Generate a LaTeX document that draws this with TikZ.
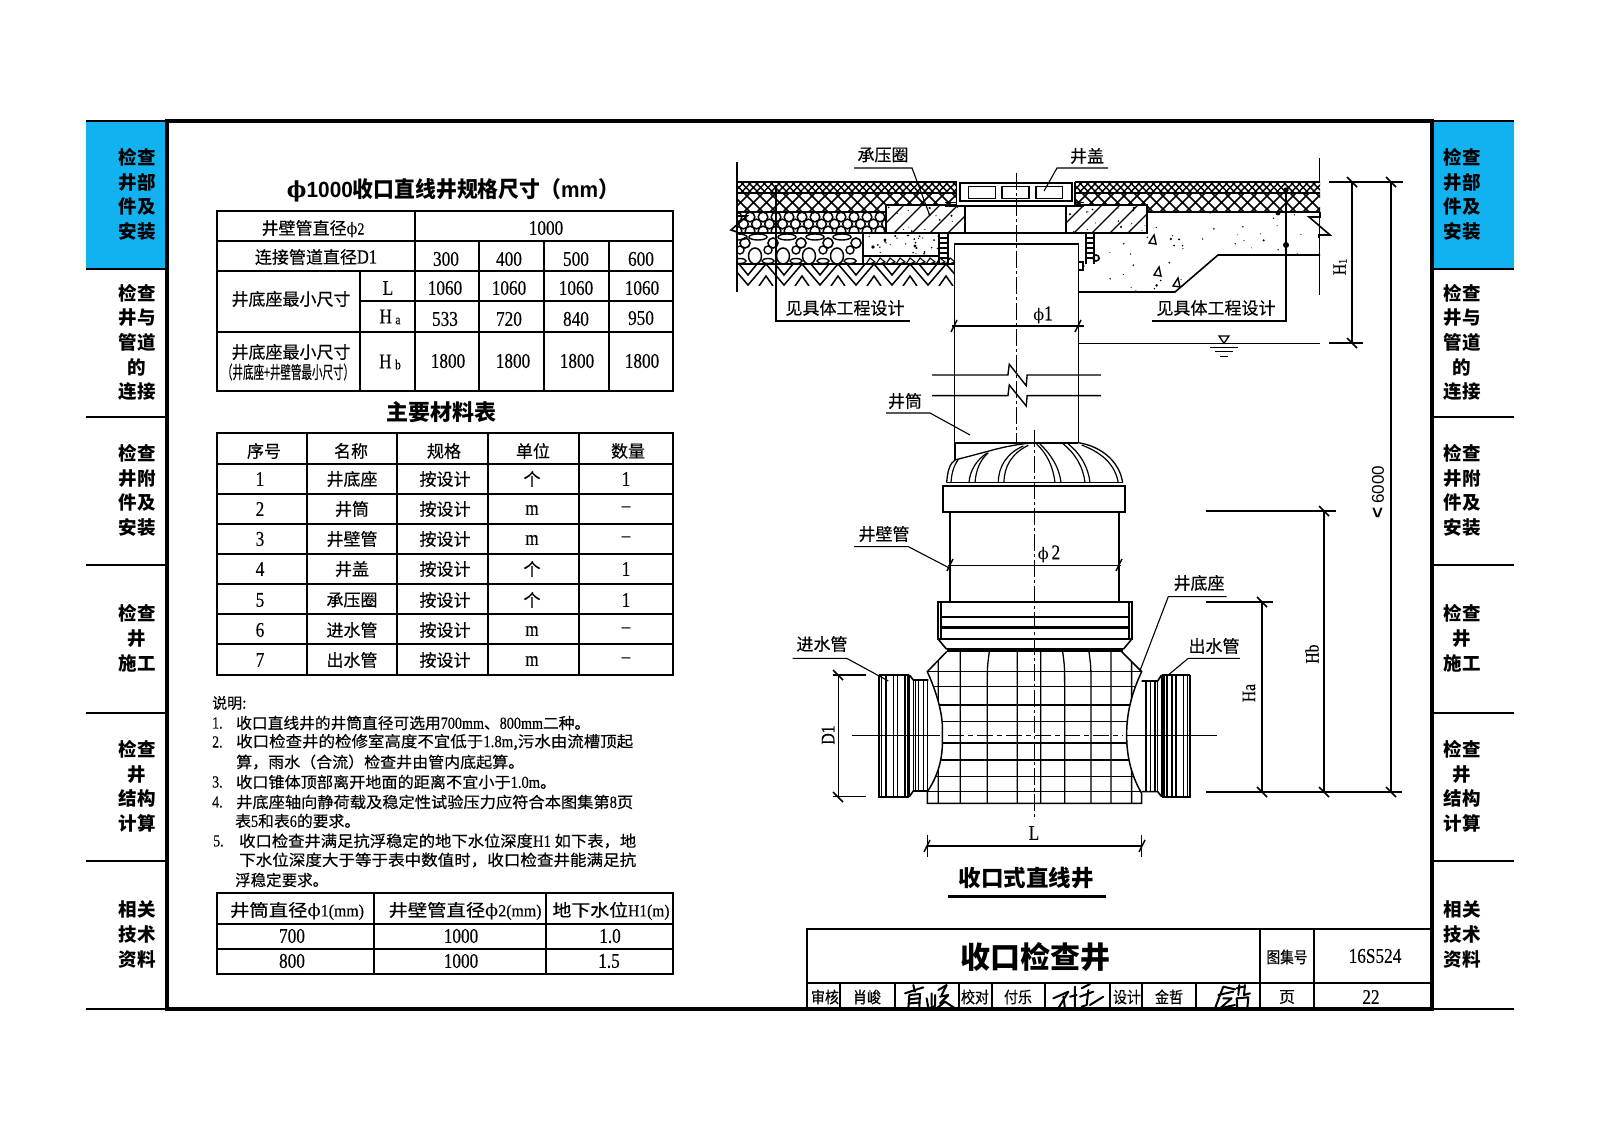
\documentclass[tikz,border=0pt]{standalone}
\usepackage{fontspec}
\newfontfamily\cjk{Noto Sans CJK SC}
\newfontfamily\cjl[FakeBold=0.35]{Noto Sans CJK SC}
\newfontfamily\numf[FakeStretch=0.82,FakeBold=0.3]{Liberation Serif}
\newfontfamily\phif{DejaVu Serif}
\newfontfamily\headf{Liberation Sans}
\newcounter{tn}
\newcommand{\T}[4][]{\stepcounter{tn}\edef\nn{t\arabic{tn}}\node[txt,#1] (\nn) at (#2,#3) {#4};}
\newcommand{\M}[4][]{\stepcounter{tn}\edef\nn{t\arabic{tn}}\node[numtxt,#1] (\nn) at (#2,#3) {#4};}
\newcommand{\NL}[5]{\stepcounter{tn}\edef\nn{t\arabic{tn}}\node[txt,anchor=west,font=\cjl\fontsize{15.5}{16}\selectfont] (\nn) at (#1,#2) {\resizebox{#3pt}{\height}{#4#5}};}
\newcommand{\nm}[1]{{\numf\fontsize{17}{17}\selectfont #1}}
\newcommand{\xh}[6]{\begin{scope}\clip (#1,#2) rectangle (#3,#4);
 \pgfmathsetmacro\hhx{#4-#2}\pgfmathsetmacro\stx{#1-\hhx}\pgfmathsetmacro\snx{\stx+#5}
 \foreach \s in {\stx,\snx,...,#3}{\draw[line width=#6pt] (\s,#2)--++(\hhx,\hhx) (\s+\hhx,#2)--++(-\hhx,\hhx);}
 \end{scope}}
\newcommand{\diagh}[5]{\begin{scope}\clip (#1,#2) rectangle (#3,#4);
 \pgfmathsetmacro\hhx{#4-#2}\pgfmathsetmacro\stx{#1-\hhx}\pgfmathsetmacro\snx{\stx+#5}
 \foreach \s in {\stx,\snx,...,#3}{\draw[line width=1.3pt] (\s,#4)--++(\hhx,-\hhx);}
 \end{scope}}
\newcommand{\spk}[5]{\foreach \i in {1,...,#5}{\pgfmathsetmacro\px{#1+rnd*(#3-#1)}\pgfmathsetmacro\py{#2+rnd*(#4-#2)}\pgfmathsetmacro\pr{0.5+1.0*rnd*rnd}\fill (\px,\py) circle (\pr pt);}}
\newcommand{\tk}[2]{\draw[line width=1.5pt] (#1-5,#2-5)--(#1+5,#2+5);}
\newcommand{\tb}[2]{\draw[line width=1.5pt] (#1-3,#2+6)--(#1+3,#2-6);}
\tikzset{
 txt/.style={inner sep=0pt,anchor=center,font=\cjl\fontsize{17}{18}\selectfont},
 numtxt/.style={inner sep=0pt,anchor=center,font=\numf\fontsize{21}{22}\selectfont},
 tabtxt/.style={inner sep=0pt,anchor=center,align=center,font=\cjk\bfseries\fontsize{18.5}{24.7}\selectfont},
 Z1/.style={shift={(720pt,-130pt)},x=0.4464pt,y=-0.3333pt},
 Z2/.style={shift={(780pt,-420pt)},x=0.3333pt,y=-0.3333pt},
 Z9/.style={shift={(890pt,-980pt)},x=0.3333pt,y=-0.3333pt},
 ln/.style={line width=1.1pt},
 md/.style={line width=1.6pt},
 sig/.style={line width=2pt,line cap=round,line join=round},
 ax/.style={line width=1pt,dash pattern=on 17pt off 3pt on 3pt off 3pt},
}
\definecolor{tabblue}{HTML}{12B2F0}
\begin{document}
\begin{tikzpicture}[x=1pt,y=-1pt,line join=miter]
\useasboundingbox (0,0) rectangle (1600,1131);
\fill[white] (0,0) rectangle (1600,1131);
% side tabs
\fill[tabblue] (86,121) rectangle (167,269);
\fill[tabblue] (1433,121) rectangle (1514,269);
\foreach \y in {269,417,565,713,861,1009}{\draw[md] (86,\y)--(167,\y) (1433,\y)--(1514,\y);}
\draw[md] (86,121)--(167,121) (1433,121)--(1514,121);
\foreach \xx in {137,1462}{
\T[tabtxt]{\xx}{194.5}{检查\\井部\\件及\\安装}
\T[tabtxt]{\xx}{342.5}{检查\\井与\\管道\\的\\连接}
\T[tabtxt]{\xx}{490.5}{检查\\井附\\件及\\安装}
\T[tabtxt]{\xx}{638.5}{检查\\井\\施工}
\T[tabtxt]{\xx}{786.5}{检查\\井\\结构\\计算}
\T[tabtxt]{\xx}{934.5}{相关\\技术\\资料}
}
% frame
\draw[line width=3.4pt] (167,121) rectangle (1432,1009);
% table 1
\T[font=\cjk\bfseries\fontsize{22}{22}\selectfont]{453}{190}{\resizebox{332pt}{\height}{{\phif ϕ}{\headf 1000}收口直线井规格尺寸（{\headf mm}）}}
\draw[line width=2.2pt] (217,211) rectangle (673,391);
\draw[md] (217,241)--(673,241) (217,271)--(673,271) (360,301)--(673,301) (217,332)--(673,332)
 (415,211)--(415,391) (360,271)--(360,391) (479,241)--(479,391) (544,241)--(544,391) (609,241)--(609,391);
\T{313}{229}{井壁管直径{\phif\fontsize{16}{16}\selectfont ϕ}{\numf 2}}
\M{546}{228}{1000}
\T{316}{257}{连接管道直径{\numf\fontsize{20}{20}\selectfont D1}}
\M{446}{259}{300}\M{509}{259}{400}\M{576}{259}{500}\M{641}{259}{600}
\T{291}{299}{井底座最小尺寸}
\M{388}{288}{L}\M{390}{317}{H\,\raisebox{-1pt}{\fontsize{14}{14}\selectfont a}}
\M{445}{288}{1060}\M{509}{288}{1060}\M{576}{288}{1060}\M{642}{288}{1060}
\M{445}{319}{533}\M{509}{319}{720}\M{576}{319}{840}\M{641}{318}{950}
\T{291}{352}{井底座最小尺寸}
\T{288}{372}{\resizebox{132pt}{15pt}{（井底座+井壁管最小尺寸）}}
\M{390}{362}{H\,\raisebox{-1pt}{\fontsize{14}{14}\selectfont b}}
\M{448}{361}{1800}\M{513}{361}{1800}\M{577}{361}{1800}\M{642}{361}{1800}
% table 2
\T[font=\cjk\bfseries\fontsize{22}{22}\selectfont]{441}{412}{主要材料表}
\draw[line width=2.2pt] (217,433) rectangle (673,675);
\draw[md] (217,464)--(673,464) (217,494)--(673,494) (217,524)--(673,524) (217,554)--(673,554)
 (217,584)--(673,584) (217,614)--(673,614) (217,644)--(673,644)
 (307,433)--(307,675) (397,433)--(397,675) (488,433)--(488,675) (579,433)--(579,675);
\T{264}{451}{序号}\T{351}{451}{名称}\T{444}{451}{规格}\T{533}{451}{单位}\T{628}{451}{数量}
\M{260}{479}{1}\T{352}{479}{井底座}\T{445}{479}{按设计}\T{532}{479}{个}\M{626}{479}{1}
\M{260}{509}{2}\T{352}{509}{井筒}\T{445}{509}{按设计}\M{532}{510}{m}\M{626}{509}{–}
\M{260}{539}{3}\T{352}{539}{井壁管}\T{445}{539}{按设计}\M{532}{540}{m}\M{626}{539}{–}
\M{260}{569}{4}\T{352}{569}{井盖}\T{445}{569}{按设计}\T{532}{569}{个}\M{626}{569}{1}
\M{260}{600}{5}\T{352}{600}{承压圈}\T{445}{600}{按设计}\T{532}{600}{个}\M{626}{600}{1}
\M{260}{630}{6}\T{352}{630}{进水管}\T{445}{630}{按设计}\M{532}{631}{m}\M{626}{630}{–}
\M{260}{660}{7}\T{352}{660}{出水管}\T{445}{660}{按设计}\M{532}{661}{m}\M{626}{660}{–}
% notes
\T[anchor=west,font=\cjl\fontsize{15}{16}\selectfont]{212}{703}{说明:}
\foreach \a/\b/\c in {1/212/723,2/212/742,3/212/782,4/212/802,5/213/841}{\M[anchor=west,font=\numf\fontsize{17}{17}\selectfont]{\b}{\c}{\a.}}
\NL{236}{723}{354}{收口直线井的井筒直径可选用}{\nm{700mm}、\nm{800mm}二种。}
\NL{236}{742}{397}{收口检查井的检修室高度不宜低于}{\nm{1.8m},污水由流槽顶起}
\NL{236}{762}{288}{算，雨水（合流）检查井由管内底起算。}{}
\NL{236}{782}{320}{收口锥体顶部离开地面的距离不宜小于}{\nm{1.0m}。}
\NL{236}{802}{397}{井底座轴向静荷载及稳定性试验压力应符合本图集第}{\nm{8}页}
\NL{235}{821}{125}{表\nm{5}和表\nm{6}的要求。}{}
\NL{239}{841}{397}{收口检查井满足抗浮稳定的地下水位深度}{\nm{H1} 如下表，地}
\NL{239}{860}{397}{下水位深度大于等于表中数值时，收口检查井能满足抗}{}
\NL{235}{880}{93}{浮稳定要求。}{}
% table 3
\draw[line width=2.2pt] (217,893) rectangle (673,974);
\draw[md] (217,924)--(673,924) (217,949)--(673,949) (374,893)--(374,974) (546,893)--(546,974);
\T{297}{911}{\resizebox{134pt}{\height}{井筒直径{\phif ϕ}{\numf 1(mm)}}}
\T{465}{911}{\resizebox{153pt}{\height}{井壁管直径{\phif ϕ}{\numf 2(mm)}}}
\T{611}{911}{\resizebox{117pt}{\height}{地下水位{\numf H1(m)}}}
\M{292}{936}{700}\M{461}{936}{1000}\M{610}{936}{1.0}
\M{292}{961}{800}\M{461}{961}{1000}\M{609}{961}{1.5}
% title block
\draw[line width=2.4pt] (807,1009)--(807,929)--(1432,929);
\draw[md] (807,983)--(1432,983) (1260,929)--(1260,1009) (1314,929)--(1314,1009);
\foreach \x in {840,895,959,992,1045,1110,1142,1196}{\draw[md] (\x,983)--(\x,1009);}
\T[font=\cjk\bfseries\fontsize{30}{30}\selectfont]{1035}{957}{收口检查井}
\T[font=\cjl\fontsize{16}{16}\selectfont]{1287}{957}{\resizebox{41pt}{\height}{图集号}}
\M{1375}{956}{16S524}
\T[font=\cjl\fontsize{16}{16}\selectfont]{825}{997}{\resizebox{28pt}{\height}{审核}}
\T[font=\cjl\fontsize{16}{16}\selectfont]{867}{997}{\resizebox{28pt}{\height}{肖峻}}
\T[font=\cjl\fontsize{16}{16}\selectfont]{975}{997}{\resizebox{28pt}{\height}{校对}}
\T[font=\cjl\fontsize{16}{16}\selectfont]{1018}{997}{\resizebox{28pt}{\height}{付乐}}
\T[font=\cjl\fontsize{16}{16}\selectfont]{1127}{997}{\resizebox{28pt}{\height}{设计}}
\T[font=\cjl\fontsize{16}{16}\selectfont]{1169}{997}{\resizebox{28pt}{\height}{金哲}}
\T[font=\cjl\fontsize{16}{16}\selectfont]{1287}{997}{页}
\M{1371}{997}{22}
\begin{scope}[Z9,sig]
\draw (45,40)--(100,22) (70,15)--(75,35) (58,45)--(55,85) (58,45)--(90,42)--(88,82) (60,58)--(85,55) (60,70)--(85,68);
\draw (110,55)--(115,85)--(135,78)--(135,45) (125,40)--(125,75) (145,30)--(170,15)--(155,45) (150,50)--(175,45)--(150,70) (140,85)--(165,65)--(195,85);
\draw (490,55)--(535,35)--(505,85) (520,50)--(525,85) (540,50)--(560,45) (555,20)--(555,85) (575,25)--(600,12) (570,50)--(610,35) (595,30)--(590,75)--(575,80) (600,75)--(640,50);
\draw (1000,20)--(975,85) (1000,20)--(1035,28) (985,45)--(1030,35) (1000,55)--(1025,55)--(990,85)--(1035,75) (1040,25)--(1060,20) (1048,15)--(1045,45) (1065,15)--(1062,45)--(1080,40) (1040,55)--(1075,52)--(1072,85)--(1042,85)--cycle;
\end{scope}
% ===== road section hatches =====
\xh{737}{182}{957}{193}{7.3}{1.4}
\xh{1075}{182}{1320}{193}{7.3}{1.4}
\xh{737}{193}{957}{212}{13}{1.6}
\xh{1075}{193}{1320}{212}{13}{1.6}
\draw[md] (737,182)--(957,182) (1075,182)--(1320,182) (737,193)--(957,193) (1075,193)--(1320,193) (737,212)--(886,212) (1147,212)--(1320,212);
% honeycomb
\begin{scope}
\clip (737,212) rectangle (886,233);
\foreach \i in {0,...,12}{\draw[line width=1.5pt] (737+13*\i,217) circle (4.8pt) (743.5+13*\i,224) circle (4.8pt) (737+13*\i,231) circle (4.8pt);}
\end{scope}
\draw[md] (737,233)--(886,233);
% cobbles
\begin{scope}
\clip (737,233) rectangle (863,264);
\foreach \x in {745,773,801,828,856}{\draw[md] (\x,243) circle (5pt);}
\foreach \x in {755,783,809,837}{\draw[line width=1.5pt] (\x,256) ellipse (6.5pt and 8pt);}
\foreach \x in {738,758,787,815,842}{\draw[line width=1.4pt] (\x,237) ellipse (9pt and 3pt);}
\foreach \x in {740,768,796,823,850}{\draw[line width=1.4pt] (\x,250) ellipse (4pt and 4pt) (\x,261) ellipse (6pt and 2.5pt);}
\end{scope}
\draw[md] (737,264)--(954,264);
% earth
\begin{scope}
\clip (737,264) rectangle (954,286);
\foreach \i in {0,...,6}{\draw[line width=1.5pt] (748+36*\i-18,264)--(748+36*\i,285)--(748+36*\i+18,264) (748+36*\i-9,264)--(748+36*\i,275)--(748+36*\i+9,264) (748+36*\i+18-7,286)--(748+36*\i+18,276)--(748+36*\i+18+7,286);}
\end{scope}
% rings
\pgfmathsetseed{17}
\fill[white] (886,205) rectangle (965,233) (1066,205) rectangle (1147,233);
\diagh{886}{205}{965}{233}{18}
\diagh{1066}{205}{1147}{233}{18}
\spk{888}{207}{964}{232}{16}
\spk{1068}{207}{1146}{232}{16}
\draw[md] (886,233)--(886,205)--(965,205)--(965,233) (1066,233)--(1066,205)--(1147,205)--(1147,233)--(1066,233) (886,233)--(1066,233);
% left lower fill
\draw[md] (863,233)--(863,264) (863,256)--(939,256);
\spk{865}{235}{938}{255}{26}
\fill (885,240) circle (1.6pt) (873,247) circle (1.8pt) (915,246) circle (1.7pt);
\begin{scope}
\clip (863,256) rectangle (954,264);
\foreach \x in {866,876,...,950}{\draw[line width=1.1pt] (\x,264)--(\x+4,258)--(\x+9,262)--(\x+3,264);}
\end{scope}
% brick columns
\foreach \xa/\xb in {939/948,1086/1094}{
\draw[md] (\xa,233)--(\xa,264) (\xb,233)--(\xb,264);
\foreach \y in {238,243,248,253,258}{\draw[ln] (\xa,\y)--(\xb,\y);}
}
% concrete right
\begin{scope}
\clip (1147,212)--(1320,212)--(1320,255)--(1218,255)--(1175,292)--(1079,292)--(1079,233)--(1147,233)--cycle;
\pgfmathsetseed{5}
\spk{1080}{212}{1320}{292}{60}
\end{scope}
\draw[md] (1079,292)--(1175,292)--(1218,255)--(1320,255);
\foreach \a/\b in {1153/239,1158/271,1177/282}{\draw[line width=1.4pt] (\a-4,\b+4)--(\a+3,\b+5)--(\a+1,\b-4)--cycle;}
\draw[md] (1096,258) circle (3pt);
\draw[ln] (1078,262) rectangle (1083,270);
\fill (1286,245) circle (3pt) (1286,190) circle (2.6pt) (1278,213) circle (2.4pt);
% break marks
\draw[md] (737,212)--(737,216)--(747,216)--(731,230)--(737,232)--(737,233);
\draw[md] (1320,212)--(1320,217)--(1309,217)--(1330,235)--(1319,235)--(1319,238);
% extension lines
\begin{scope}[Z1]
\draw[md] (38,95)--(38,485) (1343,85)--(1343,158) (1343,240)--(1343,495);
% cover
\fill[white] (530,157) rectangle (795,225);
\draw[md] (530,157)--(530,225) (795,157)--(795,225);
\draw[line width=1.8pt] (538,160) rectangle (788,213);
\draw[md] (557,170) rectangle (617,206) (632,170) rectangle (692,206) (708,170) rectangle (767,206);
\draw[line width=2.6pt] (505,228)--(815,228);
\draw[md] (505,218)--(530,218) (795,218)--(815,218);
% shaft
\fill[white] (525,342) rectangle (803,938);
\draw[line width=1.7pt] (525,402)--(525,342)--(803,342)--(803,938)--(525,938)--cycle;
% breaks
\draw[line width=1.4pt] (475,735)--(645,735)--(648,703)--(686,767)--(688,735)--(853,735);
\draw[line width=1.4pt] (475,797)--(645,797)--(648,765)--(686,828)--(688,797)--(853,797);
% dim phi1
\draw[ln] (520,588)--(815,588);
% water
\draw[md] (803,640)--(1343,640) (1365,640)--(1440,640);
\draw[line width=1.3pt] (1118,618)--(1140,618)--(1129,640)--cycle;
\draw[md] (1098,652)--(1160,652) (1108,664)--(1150,664) (1120,680)--(1138,680);
\end{scope}
% upper axis
\begin{scope}[Z1]\draw[ax] (665,130)--(665,940);\end{scope}
\T{1043}{315}{{\phif\fontsize{16}{16}\selectfont ϕ}{\numf\fontsize{21}{21}\selectfont 1}}
\tb{954}{326}\tb{1078}{326}
% leaders top
\coordinate (a0) at (854,168);\coordinate (a1) at (912,168);\coordinate (a2) at (930,216);
\draw[ln] (a0)--(a1)--(a2);
\T{883}{155}{承压圈}
\coordinate (b0) at (1108,168);\coordinate (b1) at (1057,168);\coordinate (b2) at (1044,191);
\draw[ln] (b0)--(b1)--(b2);
\T{1087}{156}{井盖}
\coordinate (c0) at (776,185);\coordinate (c1) at (776,321);\coordinate (c2) at (910,321);
\draw[md] (c0)--(c1)--(c2);
\T{845}{308}{见具体工程设计}
\coordinate (d0) at (1286,188);\coordinate (d1) at (1286,321);\coordinate (d2) at (1152,321);
\draw[md] (d0)--(d1)--(d2);
\T{1216}{308}{见具体工程设计}
\coordinate (e0) at (886,413);\coordinate (e1) at (930,413);\coordinate (e2) at (970,435);
\draw[ln] (e0)--(e1)--(e2);
\T{905}{401}{井筒}
% H1 and 6000 dims
\draw[md] (1329,182)--(1403,182) (1329,343)--(1363,343);
\draw[ln] (1352,182)--(1352,343);
\draw[ln] (1391,182)--(1391,792);
\tk{1352}{182}\tk{1352}{343}\tk{1391}{182}
\M[rotate=90,font=\numf\fontsize{19}{19}\selectfont]{1340}{267}{H\raisebox{-1pt}{\fontsize{12}{12}\selectfont 1}}
\stepcounter{tn}\node[inner sep=0pt,rotate=90,font=\headf\bfseries\fontsize{19}{19}\selectfont] (le) at (1378,492) {<\,\mdseries\fontsize{17}{17}\selectfont 6000};
% ===== lower well =====
\begin{scope}[Z2]
% dome
\fill[white] (500,188)..controls (503,150) and (510,130) .. (525,120)--(763,68)--(895,68) .. controls (970,80) and (1020,130) .. (1028,188)--cycle;
\draw[line width=1.3pt] (500,188) .. controls (503,150) and (510,130) .. (525,120) -- (620,95) .. controls (680,78) and (720,72) .. (763,68);
\draw[line width=1.3pt] (895,68) .. controls (970,80) and (1020,130) .. (1028,188);
\draw[line width=1.7pt] (525,68)--(895,68);
\draw[line width=1.7pt] (525,68)--(525,120);
\draw[line width=1.2pt] (513,188) .. controls (515,160) and (520,140) .. (535,118);
\draw[line width=1.2pt] (567,188) .. controls (570,150) and (590,120) .. (620,100);
\draw[line width=1.2pt] (585,188) .. controls (588,150) and (600,120) .. (625,98);
\draw[line width=1.2pt] (655,188) .. controls (655,140) and (680,100) .. (730,78);
\draw[line width=1.2pt] (672,188) .. controls (672,140) and (695,100) .. (745,76);
\draw[line width=1.2pt] (843,188) .. controls (838,140) and (810,100) .. (780,72);
\draw[line width=1.2pt] (825,188) .. controls (820,140) and (800,100) .. (770,72);
\draw[line width=1.2pt] (930,188) .. controls (925,140) and (900,100) .. (865,72);
\draw[line width=1.2pt] (915,188) .. controls (910,140) and (885,100) .. (850,72);
\draw[line width=1.2pt] (1015,188) .. controls (1005,135) and (970,100) .. (905,75);
\draw[md] (500,188)--(1028,188);
% collar
\draw[line width=1.7pt] (490,198) rectangle (1035,275);
% wall pipe
\draw[line width=1.7pt] (510,275)--(510,545) (1018,275)--(1018,545);
\draw[ln] (505,436)--(1022,436);
% rings
\draw[line width=1.8pt] (475,545) rectangle (1055,658);
\draw[ln] (483,545)--(483,658) (1047,545)--(1047,658);
\draw[line width=1.8pt] (483,590)--(1047,590);
\draw[line width=3pt] (483,622)--(1047,622);
\draw[line width=2.2pt] (483,657)--(1047,657);
\draw[md] (475,658)--(500,688) (1055,658)--(1030,688);
\draw[line width=3.2pt] (500,690)--(1028,690);
% body
\draw[line width=1.5pt] (500,695)--(442,755) .. controls (480,840) and (490,900) .. (487,945) .. controls (490,1000) and (480,1060) .. (442,1115)--(442,1150)--(1085,1150)--(1085,1120) .. controls (1050,1060) and (1040,1000) .. (1040,945) .. controls (1040,890) and (1050,830) .. (1085,755)--(1025,695);
\begin{scope}
\clip (500,695)--(442,755) .. controls (480,840) and (490,900) .. (487,945) .. controls (490,1000) and (480,1060) .. (442,1115)--(442,1150)--(1085,1150)--(1085,1120) .. controls (1050,1060) and (1040,1000) .. (1040,945) .. controls (1040,890) and (1050,830) .. (1085,755)--(1025,695)--cycle;
\foreach \y in {755,800,855,905,1020,1070,1115}{\draw[line width=1.3pt] (430,\y)--(1100,\y);}
\draw[line width=1.8pt] (430,968)--(1100,968);
\draw[line width=1.3pt] (475,690)--(475,1150) (541,690)--(541,1150) (628,695) .. controls (622,740) .. (622,800) -- (622,1150) (712,690)--(712,1150) (782,690)--(782,1150) (848,695) .. controls (854,740) .. (854,800) -- (854,1150) (927,695) .. controls (933,740) .. (933,800) -- (933,1150) (993,690)--(993,1150) (1055,690)--(1055,1150);
\end{scope}
% left pipe
\draw[line width=1.8pt] (297,765)--(297,1130)--(388,1130) (297,765)--(388,765);
\foreach \x in {305,318,340,352}{\draw[line width=1.2pt] (\x,765)--(\x,1130);}
\foreach \x in {375,383,388}{\draw[line width=1.8pt] (\x,765)--(\x,1130);}
\draw[md] (388,765)--(400,780)--(445,780) (388,1130)--(400,1113)--(445,1113);
\foreach \x in {400,407,415,430,443}{\draw[line width=1.4pt] (\x,780)--(\x,1113);}
% right pipe
\draw[line width=1.8pt] (1230,765)--(1230,1130)--(1145,1130) (1230,765)--(1145,765);
\foreach \x in {1222,1210,1188,1176}{\draw[line width=1.2pt] (\x,765)--(\x,1130);}
\foreach \x in {1160,1152,1145}{\draw[line width=1.8pt] (\x,765)--(\x,1130);}
\draw[md] (1145,765)--(1133,783)--(1085,783) (1145,1130)--(1133,1115)--(1085,1115);
\foreach \x in {1133,1125,1112,1098}{\draw[line width=1.4pt] (\x,783)--(\x,1115);}
% axes
\draw[ln] (215,947)--(480,947) (1040,947)--(1310,947);
\draw[line width=1pt,dash pattern=on 16pt off 4pt on 5pt off 4pt] (505,947)--(1030,947);
\draw[ax] (763,30)--(763,1195);
% D1 dim
\draw[line width=1.7pt] (160,765)--(258,765) (160,1130)--(258,1130);
\draw[ln] (175,765)--(175,1130);
% L dim
\draw[ln] (442,1245)--(442,1312) (1085,1245)--(1085,1312);
\draw[md] (442,1278)--(1085,1278);
% title underline
\coordinate (u0) at (505,1430);\coordinate (u1) at (978,1430);
\draw[line width=3.2pt] (u0)--(u1);
% leaders
\coordinate (f0) at (222,380);\coordinate (f1) at (385,380);\coordinate (f2) at (510,445);
\draw[ln] (f0)--(f1)--(f2);
\coordinate (g0) at (1340,530);\coordinate (g1) at (1165,530);\coordinate (g2) at (1080,752);
\draw[ln] (g0)--(g1)--(g2);
\coordinate (h0) at (1380,715);\coordinate (h1) at (1225,715);\coordinate (h2) at (1165,765);
\draw[ln] (h0)--(h1)--(h2);
\coordinate (i0) at (38,715);\coordinate (i1) at (200,715);\coordinate (i2) at (325,783);
\draw[ln] (i0)--(i1)--(i2);
\end{scope}
\tb{950}{565}\tb{1119}{565}
\tk{838}{675}\tk{838}{797}
\tb{927}{846}\tb{1142}{846}
\T{884}{534}{井壁管}\T{1199}{583}{井底座}\T{1214}{646}{出水管}\T{822}{644}{进水管}
\T{1049}{554}{{\phif\fontsize{16}{16}\selectfont ϕ}\,{\numf\fontsize{21}{21}\selectfont 2}}
\M[rotate=90,font=\numf\fontsize{19}{19}\selectfont]{828}{735}{D1}
\M{1034}{833}{L}
\T[font=\cjk\bfseries\fontsize{22.5}{23}\selectfont]{1026}{878}{收口式直线井}
% right dims
\draw[md] (1206,511)--(1336,511) (1206,792)--(1402,792);
\draw[line width=2.2pt] (1206,602)--(1273,602);
\draw[line width=1.8pt] (1324,511)--(1324,792);
\draw[ln] (1262,602)--(1262,792);
\tk{1324}{511}\tk{1262}{602}\tk{1262}{792}\tk{1324}{792}\tk{1391}{792}
\M[rotate=90,font=\numf\fontsize{19}{19}\selectfont]{1312}{654}{Hb}
\M[rotate=90,font=\numf\fontsize{19}{19}\selectfont]{1249}{693}{Ha}
\end{tikzpicture}
\end{document}
